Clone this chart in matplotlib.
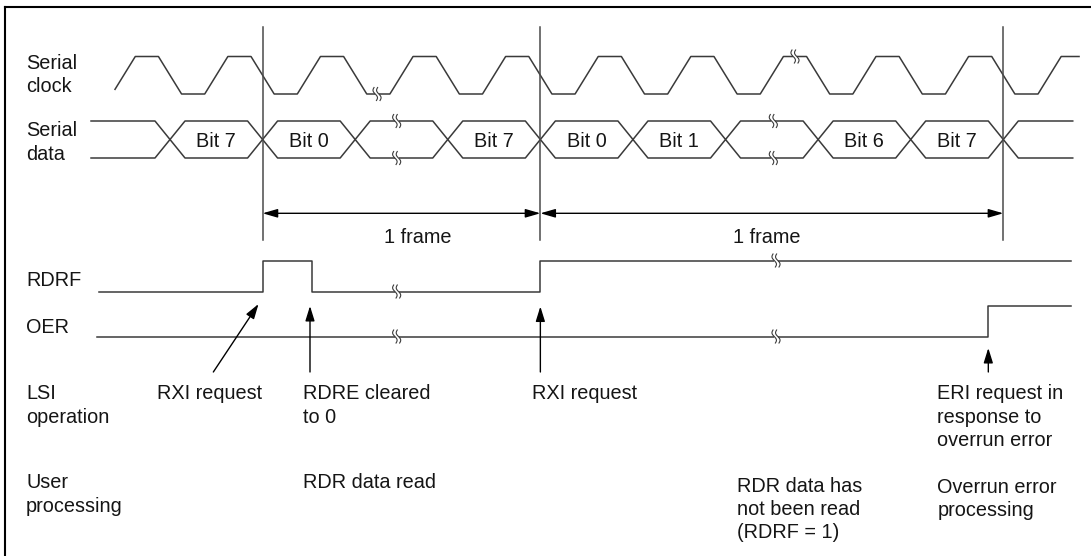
import numpy as np
import matplotlib
matplotlib.use("Agg")
import matplotlib.pyplot as plt

# ---------------- timing data (time in bit periods, t = 0 at first data transition) ----
clock_fall_times = [0, 1, 2, 3, 4, 5, 6, 7, 8, 9]
clock_span = [-0.594, 9.818]
clock_breaks = [2.236, 6.750]

data_transitions = [0, 1, 2, 3, 4, 5, 6, 7, 8, 9]
data_cells = ["Bit 7", "Bit 0", "", "Bit 7", "Bit 0", "Bit 1", "", "Bit 6", "Bit 7"]
data_span = [-0.853, 9.75]
data_breaks = [2.448, 6.516]

frame_marks = [1, 4, 9]
frame_label = "1 frame"
frame_label_pos = [2.678, 6.45]

rdrf_edges = [-0.764, 1.0, 1.537, 4.0, 9.731]
rdrf_levels = [0, 1, 0, 1]
oer_edges = [-0.792, 8.838, 9.731]
oer_levels = [0, 1]
flag_breaks = [2.448, 6.545]

signal_names = ["Serial\nclock", "Serial\ndata", "RDRF", "OER", "LSI\noperation", "User\nprocessing"]

event_arrows = [  # (t_start, t_tip) for pointer arrows
    (0.468, 0.956),
    (1.512, 1.512),
    (4.0, 4.0),
    (8.838, 8.838),
]
event_texts = [
    (-0.144, "lsi", "RXI request"),
    (1.440, "lsi", "RDRE cleared\nto 0"),
    (3.906, "lsi", "RXI request"),
    (8.287, "lsi", "ERI request in\nresponse to\noverrun error"),
    (1.440, "user", "RDR data read"),
    (6.120, "user2", "RDR data has\nnot been read\n(RDRF = 1)"),
    (8.287, "user3", "Overrun error\nprocessing"),
]

# ---------------- layout (pixel-like vertical units, x in bit periods) ----------------
W, H = 1091, 556
X0, PX = 170.0, 92.59           # pixel position of t=0 and pixels per bit period
CLK_HI, CLK_LO = 56.5, 94.0
DAT_TOP, DAT_BOT = 121.0, 158.0
RDRF_HI, RDRF_LO = 260.5, 291.5
OER_HI, OER_LO = 306.0, 336.5
LINE_C = "#3a3a3a"
TXT_C = "#151515"
FS = 14.3
PITCH = 23.4
FONT = ["Liberation Sans", "DejaVu Sans"]

plt.rcParams["font.family"] = FONT

fig = plt.figure(figsize=(W / 100, H / 100), dpi=100)
ax = fig.add_axes([0, 0, 1, 1])
ax.set_xlim((0 - X0) / PX, (W - X0) / PX)
ax.set_ylim(H, 0)
ax.axis("off")

px = 1.0 / PX  # one pixel in time units


def break_mark(t, y, gap_color="white"):
    # mask small gap then draw two small S strokes
    ax.fill([t - 2 * px, t + 2 * px, t + 2 * px, t - 2 * px],
            [y - 1.5, y - 1.5, y + 1.5, y + 1.5], color=gap_color, zorder=3, lw=0)
    s = np.linspace(-1, 1, 30)
    for d in (-1.8, 1.8):
        xs = t + (d + 1.6 * np.sin(np.pi * s) + 1.2 * s) * px
        ys = y + 6.5 * s
        ax.plot(xs, ys, color=LINE_C, lw=0.8, zorder=4)


# border (top and left)
ax.plot([(5 - X0) / PX, (5 - X0) / PX], [H + 5, 7.3], color="black", lw=1.5,
        solid_capstyle="projecting")
ax.plot([(5 - X0) / PX, (W + 5 - X0) / PX], [7.3, 7.3], color="black", lw=1.5,
        solid_capstyle="projecting")

# ---- serial clock ----
q = 0.25
tv, yv = [clock_fall_times[0] - 0.625], [CLK_LO]
for f in clock_fall_times:
    tv += [f - 0.375, f - 0.125, f + 0.125, f + 0.375]
    yv += [CLK_HI, CLK_HI, CLK_LO, CLK_LO]
tv += [clock_fall_times[-1] + 0.625, clock_fall_times[-1] + 0.875]
yv += [CLK_HI, CLK_HI]
tv = np.array(tv); yv = np.array(yv)
inner = (tv > clock_span[0]) & (tv < clock_span[1])
ct = np.concatenate([[clock_span[0]], tv[inner], [clock_span[1]]])
cy = np.interp(ct, tv, yv)
ax.plot(ct, cy, color=LINE_C, lw=1.1, zorder=2)
for b in clock_breaks:
    break_mark(b, np.interp(b, tv, yv))

# ---- serial data ----
hw = 15 * px
mid = (DAT_TOP + DAT_BOT) / 2
for level in (DAT_TOP, DAT_BOT):
    xs, ys = [data_span[0]], [level]
    for tr in data_transitions:
        xs += [tr - hw, tr, tr + hw]
        ys += [level, mid, level]
    xs.append(data_span[1]); ys.append(level)
    ax.plot(xs, ys, color=LINE_C, lw=1.1, zorder=2)
    for b in data_breaks:
        break_mark(b, level)
for i, lab in enumerate(data_cells):
    if lab:
        c = (data_transitions[i] + data_transitions[i + 1]) / 2
        ax.text(c, 146.7, lab, ha="center", va="baseline", fontsize=FS, color=TXT_C)

# ---- frame markers ----
for m in frame_marks:
    ax.plot([m, m], [26.7, 240], color="#4a4a4a", lw=1.1, zorder=2)
for a, b in zip(frame_marks[:-1], frame_marks[1:]):
    ax.annotate("", xy=(b, 213.3), xytext=(a, 213.3),
                arrowprops=dict(arrowstyle="<|-|>,head_length=0.45,head_width=0.13",
                                mutation_scale=20, color="black", lw=1.0,
                                shrinkA=0, shrinkB=0))
for p in frame_label_pos:
    ax.text(p, 243.3, frame_label, ha="center", va="baseline", fontsize=FS, color=TXT_C)


# ---- flags ----
def step(edges, levels, hi, lo):
    xs, ys = [], []
    for i, lv in enumerate(levels):
        y = hi if lv else lo
        xs += [edges[i], edges[i + 1]]
        ys += [y, y]
    ax.plot(xs, ys, color=LINE_C, lw=1.1, zorder=2)
    return xs, ys


rx, ry = step(rdrf_edges, rdrf_levels, RDRF_HI, RDRF_LO)
ox, oy = step(oer_edges, oer_levels, OER_HI, OER_LO)


def level_at(edges, levels, t, hi, lo):
    for i, lv in enumerate(levels):
        if edges[i] <= t <= edges[i + 1]:
            return hi if lv else lo


for b in flag_breaks:
    break_mark(b, level_at(rdrf_edges, rdrf_levels, b, RDRF_HI, RDRF_LO))
    break_mark(b, level_at(oer_edges, oer_levels, b, OER_HI, OER_LO))

# ---- event arrows ----
tips_y = [304, 306, 306.5, 348]
for (t0, t1), ty in zip(event_arrows, tips_y):
    ax.annotate("", xy=(t1, ty), xytext=(t0, 372),
                arrowprops=dict(arrowstyle="-|>,head_length=0.45,head_width=0.14",
                                mutation_scale=20, color="black", lw=1.0,
                                shrinkA=0, shrinkB=0))

# ---- row labels ----
label_t = (26 - X0) / PX
label_base = [69.0, 136.5, 286.0, 332.7, 399.3, 488.3]
for name, yb in zip(signal_names, label_base):
    for j, line in enumerate(name.split("\n")):
        ax.text(label_t, yb + j * PITCH, line, ha="left", va="baseline",
                fontsize=FS, color=TXT_C)

# ---- event texts ----
row_base = {"lsi": 399.3, "user": 488.3, "user2": 491.7, "user3": 493.0}
for t, row, txt in event_texts:
    for j, line in enumerate(txt.split("\n")):
        ax.text(t, row_base[row] + j * PITCH, line, ha="left", va="baseline",
                fontsize=FS, color=TXT_C)

fig.savefig("out.png", dpi=100, facecolor="white")
